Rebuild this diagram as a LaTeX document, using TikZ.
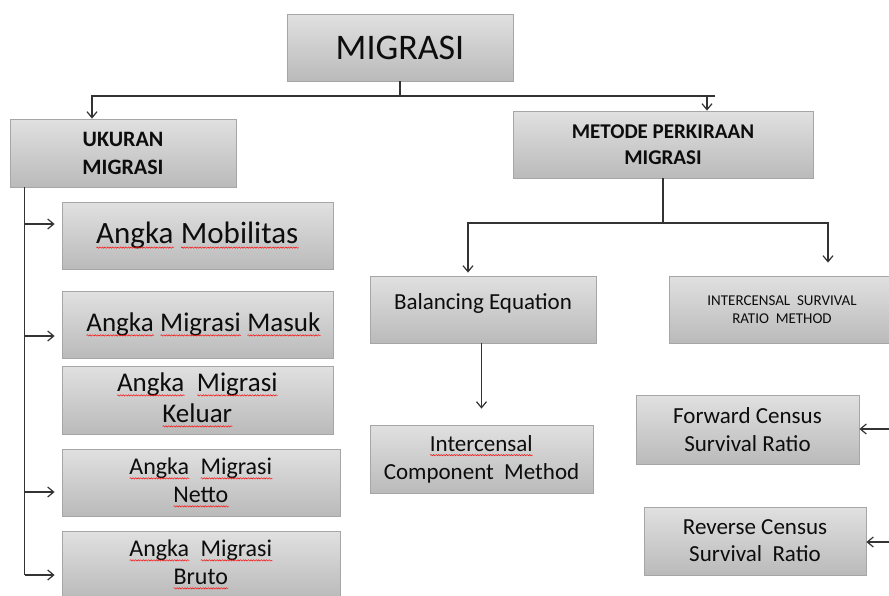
\documentclass[tikz,border=0pt]{standalone}
\usepackage{fontspec}
\setmainfont{Carlito}
\usetikzlibrary{arrows.meta,decorations.pathmorphing}
\newsavebox\kata
\newcommand\ejaan[1]{\sbox\kata{#1}\rlap{\usebox\kata}\tikz[baseline=0pt]\draw[red, line width=0.45pt,
    decorate, decoration={snake, amplitude=0.7pt, segment length=2.6pt}] (0pt,-4pt) -- (\wd\kata,-4pt);}
\newcommand\hrf[2]{\fontsize{#1}{#2}\selectfont}
\begin{document}
\begin{tikzpicture}[x=1pt, y=-1pt, >={Straight Barb[length=6pt,width=10pt]},
    kotak/.style={draw=black!35, line width=0.8pt, top color=black!12, bottom color=black!27,
      text=black!95, align=center, inner sep=0pt},
    garis/.style={draw=black!80, line width=1.2pt}]
    \clip (0,0) rectangle (889,595);
    % --- kotak atas ---
    \node[kotak, minimum width=226pt, minimum height=67pt, font=\hrf{36}{40}] (migrasi) at (400,47.5) {MIGRASI};
    \node[kotak, minimum width=226pt, minimum height=68pt, font=\hrf{22}{28}\bfseries] (ukuran) at (123,153) {UKURAN\\MIGRASI};
    \node[kotak, minimum width=300pt, minimum height=67pt, font=\hrf{21}{26}\bfseries] (metode) at (663,144.5) {METODE PERKIRAAN\\MIGRASI};
    % --- ukuran migrasi ---
    \node[kotak, minimum width=271pt, minimum height=67pt, font=\hrf{31}{34}] (mobilitas) at (197.5,235.5) {\ejaan{Angka} \ejaan{Mobilitas}};
    \node[kotak, minimum width=271pt, minimum height=67pt, font=\hrf{27}{31}] (masuk) at (197.5,324.5) {\ \ \ejaan{Angka} \ejaan{Migrasi} \ejaan{Masuk}};
    \node[kotak, minimum width=271pt, minimum height=68pt, font=\hrf{27}{31}] (keluar) at (197.5,400) {\ejaan{Angka}\ \ \ejaan{Migrasi}\\\ejaan{Keluar}};
    \node[kotak, minimum width=278pt, minimum height=67pt, font=\hrf{24}{28}] (netto) at (201,482.5) {\ejaan{Angka}\ \ \ejaan{Migrasi}\\\ejaan{Netto}};
    \node[kotak, minimum width=278pt, minimum height=67pt, font=\hrf{24}{28}] (bruto) at (201,564.5) {\ejaan{Angka}\ \ \ejaan{Migrasi}\\\ejaan{Bruto}};
    % --- metode perkiraan ---
    \node[kotak, minimum width=226pt, minimum height=67pt, text height=16pt, text depth=16pt, font=\hrf{23}{28}] (balancing) at (483,309.5) {Balancing Equation};
    \node[kotak, minimum width=226pt, minimum height=67pt, font=\hrf{15}{18}] (isr) at (782,309.5) {INTERCENSAL\ \ SURVIVAL\\RATIO\ \ METHOD};
    \node[kotak, minimum width=223pt, minimum height=68pt, font=\hrf{23}{28}] (komponen) at (481.5,459) {\ejaan{Intercensal}\\Component\ \ Method};
    \node[kotak, minimum width=223pt, minimum height=69pt, font=\hrf{23}{28}] (forward) at (747.5,429.5) {Forward Census\\Survival Ratio};
    \node[kotak, minimum width=222pt, minimum height=68pt, font=\hrf{23}{27}] (reverse) at (755,541) {Reverse Census\\Survival\ \ Ratio};
    % --- garis dari MIGRASI ---
    \coordinate (atas) at (400,96);
    \draw[garis] (migrasi) -- (atas) -- ++(315,0);
    \draw[garis,->] (atas) -| ([xshift=-31pt]ukuran.north);
    \draw[garis,->] (atas) -| ([xshift=44pt]metode.north);
    % --- garis kiri ---
    \coordinate (tulang) at ([xshift=15pt]ukuran.south west);
    \coordinate (pMob) at ([xshift=-7pt,yshift=11.5pt]mobilitas.west);
    \coordinate (pMas) at ([xshift=-7pt,yshift=-11.5pt]masuk.west);
    \coordinate (pNet) at ([xshift=-7pt,yshift=-9.5pt]netto.west);
    \coordinate (pBru) at ([xshift=-7pt,yshift=-10.5pt]bruto.west);
    \draw[garis] (tulang) -- (tulang |- pBru);
    \foreach \p in {pMob,pMas,pNet,pBru}
        \draw[garis,->] (tulang |- \p) -- (\p);
    % --- garis kanan ---
    \coordinate (tengah) at (663,223);
    \draw[garis] (metode) -- (tengah);
    \draw[garis,->] (tengah) -| ([xshift=-15pt,yshift=3pt]balancing.north);
    \draw[garis,->] (tengah) -| ([xshift=46pt,yshift=13pt]isr.north);
    \draw[garis,->] (komponen.north |- balancing.south) -- ([yshift=16pt]komponen.north);
    \coordinate (kananF) at (889,429);
    \coordinate (kananR) at (889,542);
    \draw[garis,->] (kananF) -- (forward.east |- kananF);
    \draw[garis,->] (kananR) -- (reverse.east |- kananR);
\end{tikzpicture}
\end{document}
